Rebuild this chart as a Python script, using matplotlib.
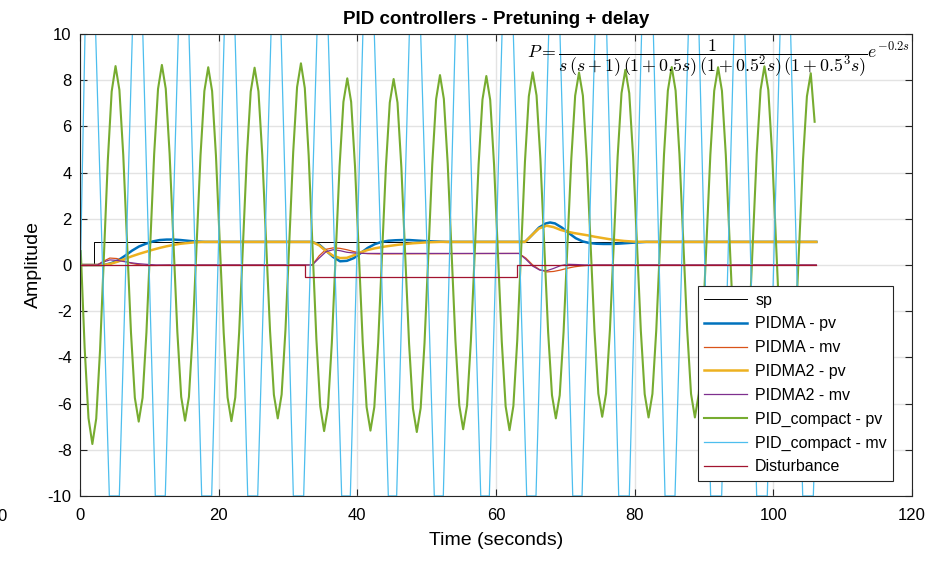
import numpy as np
import matplotlib
matplotlib.use("Agg")
import matplotlib.pyplot as plt

plt.rcParams["font.family"] = ["Liberation Sans", "DejaVu Sans"]
plt.rcParams["mathtext.fontset"] = "cm"
plt.rcParams["axes.unicode_minus"] = False

# ---------------------------------------------------------------------------
# Data
# ---------------------------------------------------------------------------

# setpoint and disturbance (steps)
t_sp = [0, 2.07, 2.07, 106.2]
sp = [0, 0, 1, 1]
t_dist = [0, 32.45, 32.45, 63.1, 63.1, 106.2]
dist = [0, 0, -0.5, -0.5, 0, 0]

# PIDMA - pv
t_pidma_pv = [0, 3.5, 4.5, 5.5, 6.5, 7.5, 8.5, 9.5, 10.5, 11.5, 12.5, 13.5, 14.5,
              15.5, 16.5, 18, 20, 33.5, 34.5, 35.5, 36.5, 37.5, 38.5, 39.5, 40.5,
              41.5, 42.5, 43.5, 44.5, 45.5, 46.5, 47.5, 48.5, 49.5, 51, 53, 64.2,
              65.2, 66.2, 67.2, 67.8, 68.5, 69.5, 70.5, 71.5, 72.5, 73.5, 74.5,
              75.5, 76.5, 77.5, 78.5, 79.5, 80.5, 81.7, 106.2]
pidma_pv = [0, 0, 0.08, 0.2, 0.4, 0.62, 0.8, 0.92, 1.02, 1.08, 1.1, 1.1, 1.08,
            1.05, 1.02, 1.0, 1.0, 1.0, 0.88, 0.62, 0.35, 0.16, 0.18, 0.3, 0.52,
            0.74, 0.9, 1.0, 1.05, 1.07, 1.08, 1.08, 1.06, 1.04, 1.02, 1.0, 1.0,
            1.3, 1.62, 1.8, 1.84, 1.8, 1.62, 1.38, 1.16, 1.02, 0.95, 0.92,
            0.91, 0.91, 0.92, 0.94, 0.96, 0.98, 1.0, 1.0]

# PIDMA - mv
t_pidma_mv = [0, 2.5, 3.3, 4.3, 5.3, 6.3, 7.3, 8.3, 9.5, 11, 13, 33.5, 34.5, 35.5,
              36.5, 37.5, 38.5, 39.5, 40.5, 41.5, 43, 63.3, 64.3, 65.3, 66.3, 67.3,
              68.3, 69.3, 70.3, 71.3, 72.3, 73.5, 75, 106.2]
pidma_mv = [0, 0, 0.15, 0.3, 0.28, 0.18, 0.08, 0.02, -0.02, -0.02, 0, 0, 0.4, 0.68,
            0.74, 0.72, 0.66, 0.58, 0.52, 0.49, 0.48, 0.5, 0.3, 0.0, -0.2, -0.3,
            -0.28, -0.22, -0.14, -0.08, -0.04, -0.01, 0, 0]

# PIDMA2 - pv
t_pidma2_pv = [0, 3.5, 4.5, 5.5, 6.5, 7.5, 8.5, 9.5, 10.5, 11.5, 12.5, 13.5, 14.5,
               15.5, 16.5, 18, 33.5, 34.5, 35.5, 36.5, 37.5, 38.5, 39.5, 40.5,
               41.5, 42.5, 44, 46, 48, 50, 52, 64.2, 65.2, 66.2, 67.3, 68.3, 69.3,
               70.3, 71.3, 72.3, 73.3, 74.3, 75.3, 76.3, 77.3, 78.5, 80, 82, 106.2]
pidma2_pv = [0, 0, 0.06, 0.15, 0.27, 0.38, 0.48, 0.57, 0.66, 0.74, 0.81, 0.87, 0.92,
             0.95, 0.98, 1.0, 1.0, 0.85, 0.6, 0.4, 0.3, 0.31, 0.42, 0.55,
             0.65, 0.72, 0.8, 0.88, 0.94, 0.98, 1.0, 1.0, 1.3, 1.58, 1.7, 1.64, 1.52,
             1.44, 1.38, 1.33, 1.28, 1.22, 1.17, 1.12, 1.08, 1.04, 1.01, 1.0, 1.0]

# PIDMA2 - mv
t_pidma2_mv = [0, 2.5, 3.3, 4.3, 5.3, 6.3, 7.3, 8.3, 9.5, 11, 33.5, 34.5, 35.5,
               36.5, 37.5, 38.5, 39.5, 41, 63.3, 64.3, 65.3, 66.3, 67.3, 68.3,
               69.3, 70.3, 71.5, 73, 106.2]
pidma2_mv = [0, 0, 0.12, 0.22, 0.2, 0.15, 0.1, 0.06, 0.03, 0, 0, 0.3, 0.58,
             0.66, 0.62, 0.55, 0.52, 0.5, 0.5, 0.25, -0.05, -0.22, -0.25, -0.15,
             -0.03, 0.03, 0.02, 0, 0]

# PID_compact - pv, sampled every 0.5571 s starting at 0.11 s
t_compact_pv = np.linspace(0.11, 105.96, 191)
compact_pv = [
    0.6, -3.58, -6.63, -7.75,
    -6.65, -3.66, 0.43, 4.52, 7.51, 8.61, 7.58, 4.76, 0.91, -2.93, -5.75, -6.78,
    -5.75, -2.92, 0.94, 4.80, 7.62, 8.66, 7.63, 4.81, 0.96, -2.89, -5.71, -6.74,
    -5.71, -2.91, 0.91, 4.74, 7.53, 8.56, 7.53, 4.73, 0.90, -2.93, -5.73, -6.76,
    -5.73, -2.93, 0.89, 4.72, 7.51, 8.54, 7.52, 4.74, 0.95, -2.85, -5.62, -6.64,
    -5.61, -2.80, 1.05, 4.89, 7.70, 8.73, 7.66, 4.75, 0.77, -3.21, -6.12, -7.19,
    -6.17, -3.37, 0.45, 4.26, 7.06, 8.08, 7.06, 4.27, 0.45, -3.36, -6.15, -7.17,
    -6.15, -3.36, 0.44, 4.25, 7.03, 8.05, 7.03, 4.23, 0.41, -3.41, -6.21, -7.23,
    -6.19, -3.37, 0.50, 4.36, 7.18, 8.22, 7.19, 4.39, 0.55, -3.28, -6.08, -7.11,
    -6.09, -3.29, 0.54, 4.36, 7.16, 8.18, 7.15, 4.35, 0.51, -3.32, -6.12, -7.15,
    -6.11, -3.28, 0.60, 4.47, 7.30, 8.34, 7.34, 4.59, 0.85, -2.90, -5.64, -6.64,
    -5.64, -2.90, 0.85, 4.59, 7.33, 8.33, 7.33, 4.60, 0.88, -2.85, -5.57, -6.57,
    -5.56, -2.81, 0.94, 4.70, 7.44, 8.45, 7.44, 4.69, 0.92, -2.84, -5.59, -6.60,
    -5.58, -2.81, 0.99, 4.78, 7.55, 8.57, 7.55, 4.78, 0.99, -2.81, -5.58, -6.60,
    -5.58, -2.81, 0.98, 4.77, 7.54, 8.56, 7.54, 4.77, 0.98, -2.81, -5.58, -6.60,
    -5.58, -2.80, 1.00, 4.80, 7.58, 8.60, 7.58, 4.80, 1.00, -2.80, -5.58, -6.60,
    -5.60, -2.88, 0.85, 4.58, 7.30, 8.30,
    6.2,
]

# PID_compact - mv (saturated, corner points)
t_compact_mv = [0, 0.72, 2.26, 4.23, 5.67, 7.55, 9.06, 10.86, 12.3, 14.18, 15.72,
                17.55, 18.99, 20.8, 22.36, 24.19, 25.63, 27.55, 29.0, 30.77, 32.26,
                34.18, 35.8, 37.74, 38.99, 40.8, 42.45, 44.47, 45.67, 47.5, 49.14,
                51.1, 52.4, 54.13, 55.86, 57.8, 59.04, 60.87, 62.5, 64.43, 65.77,
                67.6, 69.23, 71.07, 72.41, 74.28, 75.97, 77.7, 79.23, 81.0, 82.7,
                84.38, 85.82, 87.74, 89.28, 90.96, 92.55, 94.33, 95.9, 97.6, 99.13,
                100.97, 102.5, 104.24, 105.77, 106.2]
compact_mv = [-1, 10, 10, -10, -10, 10, 10, -10, -10, 10, 10,
              -10, -10, 10, 10, -10, -10, 10, 10, -10, -10,
              10, 10, -10, -10, 10, 10, -10, -10, 10, 10,
              -10, -10, 10, 10, -10, -10, 10, 10, -10, -10,
              10, 10, -10, -10, 10, 10, -10, -10, 10, 10,
              -10, -10, 10, 10, -10, -10, 10, 10, -10, -10,
              10, 10, -10, -10, -6]

# MATLAB default colour order
C_BLUE = "#0072BD"
C_ORANGE = "#D95319"
C_YELLOW = "#EDB120"
C_PURPLE = "#7E2F8E"
C_GREEN = "#77AC30"
C_CYAN = "#4DBEEE"
C_RED = "#A2142F"

fig = plt.figure(figsize=(9.48, 5.61), dpi=100)
ax = fig.add_axes([0.0844, 0.1159, 0.8776, 0.8235])

ax.plot(t_sp, sp, color="black", lw=0.7, label="sp")
ax.plot(t_pidma_pv, pidma_pv, color=C_BLUE, lw=1.8, label="PIDMA - pv")
ax.plot(t_pidma_mv, pidma_mv, color=C_ORANGE, lw=0.9, label="PIDMA - mv")
ax.plot(t_pidma2_pv, pidma2_pv, color=C_YELLOW, lw=1.8, label="PIDMA2 - pv")
ax.plot(t_pidma2_mv, pidma2_mv, color=C_PURPLE, lw=0.9, label="PIDMA2 - mv")
ax.plot(t_compact_pv, compact_pv, color=C_GREEN, lw=1.5, label="PID_compact - pv")
ax.plot(t_compact_mv, compact_mv, color=C_CYAN, lw=0.9, label="PID_compact - mv")
ax.plot(t_dist, dist, color=C_RED, lw=0.9, label="Disturbance")

ax.set_xlim(0, 120)
ax.set_ylim(-10, 10)
ax.set_xticks(np.arange(0, 121, 20))
ax.set_yticks(np.arange(-10, 11, 2))
ax.grid(True, color="#e3e3e3", lw=1)
ax.set_axisbelow(True)
ax.tick_params(direction="in", labelsize=12, length=5, color="#262626",
               top=True, right=True)
ax.tick_params(axis="x", pad=9)
ax.tick_params(axis="y", pad=6)
for sp_ in ax.spines.values():
    sp_.set_color("#262626")

ax.set_title("PID controllers - Pretuning + delay", fontsize=13.5, fontweight="bold",
             pad=7)
ax.set_xlabel("Time (seconds)", fontsize=14, labelpad=6)
ax.set_ylabel("Amplitude", fontsize=14)

ax.text(0.998, 0.947,
        r"$P=\dfrac{1}{s\,(s+1)\,(1+0.5s)\,(1+0.5^2s)\,(1+0.5^3s)}e^{-0.2s}$",
        transform=ax.transAxes, ha="right", va="center", fontsize=12.8)

leg = ax.legend(loc="lower right", bbox_to_anchor=(0.987, 0.0155), fontsize=11.5,
                fancybox=False, framealpha=1, edgecolor="#262626",
                handlelength=2.7, labelspacing=0.55, borderpad=0.4,
                handletextpad=0.5, borderaxespad=0.5)
leg.get_frame().set_linewidth(0.8)

fig.text(0.007, 0.08, "0", ha="right", va="center", fontsize=12)

fig.savefig("out.png", dpi=100)
